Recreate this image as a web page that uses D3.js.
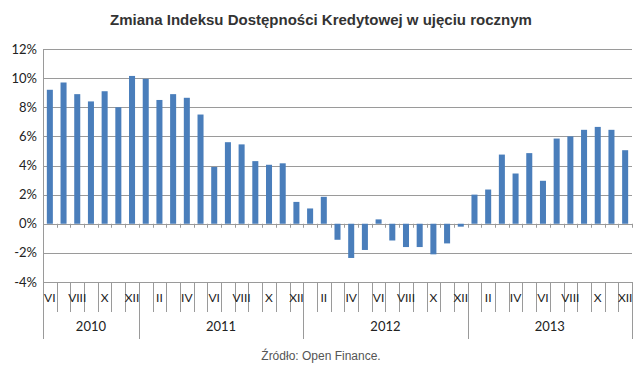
<!DOCTYPE html>
<html>
<head>
<meta charset="utf-8">
<script src="https://cdn.jsdelivr.net/npm/d3@7"></script>
<style>
  body { margin: 0; background: #fff; }
  svg { display: block; }
  .grid line { stroke: #9a9a9a; stroke-width: 1; }
  .ytick { font-family: Lato, "Open Sans", sans-serif; font-size: 13px; fill: #222; }
  .xlab { font-family: Lato, "Open Sans", sans-serif; font-size: 12px; fill: #222; }
  .ylab { font-family: Lato, "Open Sans", sans-serif; font-size: 13px; fill: #222; }
</style>
</head>
<body>
<div id="chart"></div>
<script>
const years = ['2010', '2011', '2012', '2013'];
const monthsInYear = [
  ['VI', 'VII', 'VIII', 'IX', 'X', 'XI', 'XII'],
  ['I', 'II', 'III', 'IV', 'V', 'VI', 'VII', 'VIII', 'IX', 'X', 'XI', 'XII'],
  ['I', 'II', 'III', 'IV', 'V', 'VI', 'VII', 'VIII', 'IX', 'X', 'XI', 'XII'],
  ['I', 'II', 'III', 'IV', 'V', 'VI', 'VII', 'VIII', 'IX', 'X', 'XI', 'XII']
];
const values = [
  9.2, 9.7, 8.9, 8.4, 9.1, 8.0, 10.15,
  9.95, 8.5, 8.9, 8.65, 7.5, 3.9, 5.6, 5.45, 4.3, 4.05, 4.15, 1.5,
  1.05, 1.85, -1.1, -2.35, -1.8, 0.3, -1.15, -1.6, -1.6, -2.1, -1.35, -0.2,
  2.0, 2.35, 4.75, 3.45, 4.85, 2.95, 5.85, 6.0, 6.45, 6.65, 6.45, 5.05
];
const yTicks = [-4, -2, 0, 2, 4, 6, 8, 10, 12];

const W = 640, H = 380;
const m = { left: 43, right: 8, top: 49, bottom: 98 };

// one entry per bar: id, month, year index
const cats = [];
monthsInYear.forEach((ms, yi) => ms.forEach(mo => cats.push({ id: years[yi] + '-' + mo, month: mo, yi })));
const data = cats.map((c, i) => ({ ...c, value: values[i], idx: i }));

const svg = d3.select('#chart').append('svg').attr('width', W).attr('height', H);

const x = d3.scaleBand().domain(cats.map(c => c.id)).range([m.left, W - m.right]).paddingInner(0.56).paddingOuter(0.28);
const y = d3.scaleLinear().domain([-4, 12]).range([H - m.bottom, m.top]);

const x0 = m.left, x1 = W - m.right;
const boundary = i => x0 + i * (x1 - x0) / cats.length;

// gridlines
svg.append('g').attr('class', 'grid')
  .selectAll('line').data(yTicks).join('line')
  .attr('x1', x0).attr('x2', x1)
  .attr('y1', d => Math.round(y(d)) + 0.5).attr('y2', d => Math.round(y(d)) + 0.5);

// y axis line
svg.append('line').attr('x1', x0 + 0.5).attr('x2', x0 + 0.5)
  .attr('y1', y(12)).attr('y2', y(-4)).attr('stroke', '#9a9a9a');

// y tick labels
svg.append('g').selectAll('text').data(yTicks).join('text')
  .attr('class', 'ytick')
  .attr('x', x0 - 6).attr('y', d => y(d)).attr('dy', '0.35em')
  .attr('text-anchor', 'end')
  .text(d => d + '%');

// bars
svg.append('g').selectAll('rect').data(data).join('rect')
  .attr('x', d => x(d.id))
  .attr('width', x.bandwidth())
  .attr('y', d => y(Math.max(0, d.value)))
  .attr('height', d => Math.abs(y(d.value) - y(0)))
  .attr('fill', '#4a7ebb');

// small ticks on zero line
const bIdx = d3.range(cats.length + 1);
svg.append('g').selectAll('line').data(bIdx).join('line')
  .attr('x1', i => Math.round(boundary(i)) + 0.5).attr('x2', i => Math.round(boundary(i)) + 0.5)
  .attr('y1', y(0)).attr('y2', y(0) + 4)
  .attr('stroke', '#9a9a9a');

// category separators at bottom
const yearStarts = [];
let acc = 0;
monthsInYear.forEach(ms => { yearStarts.push(acc); acc += ms.length; });
yearStarts.push(acc);
const yBase = y(-4);
svg.append('g').selectAll('line').data(bIdx).join('line')
  .attr('x1', i => Math.round(boundary(i)) + 0.5).attr('x2', i => Math.round(boundary(i)) + 0.5)
  .attr('y1', yBase).attr('y2', i => yearStarts.includes(i) ? yBase + 57 : yBase + 30)
  .attr('stroke', '#9a9a9a');

// month labels (every other)
svg.append('g').selectAll('text').data(data.filter(d => d.idx % 2 === 0)).join('text')
  .attr('class', 'xlab')
  .attr('x', d => x(d.id) + x.bandwidth() / 2)
  .attr('y', yBase + 20)
  .attr('text-anchor', 'middle')
  .text(d => d.month);

// year labels
svg.append('g').selectAll('text').data(years).join('text')
  .attr('class', 'ylab')
  .attr('x', (d, i) => (boundary(yearStarts[i]) + boundary(yearStarts[i + 1])) / 2)
  .attr('y', yBase + 49)
  .attr('text-anchor', 'middle')
  .text(d => d);

// title
svg.append('text')
  .attr('x', 321).attr('y', 25)
  .attr('text-anchor', 'middle')
  .style('font-family', '"Liberation Sans", Arial, sans-serif')
  .style('font-size', '15px').style('font-weight', 'bold').style('fill', '#333')
  .text('Zmiana Indeksu Dostępności Kredytowej w ujęciu rocznym');

// source
svg.append('text')
  .attr('x', 321).attr('y', 360)
  .attr('text-anchor', 'middle')
  .style('font-family', '"Liberation Sans", Arial, sans-serif')
  .style('font-size', '12px').style('fill', '#555')
  .text('Źródło: Open Finance.');
</script>
</body>
</html>
